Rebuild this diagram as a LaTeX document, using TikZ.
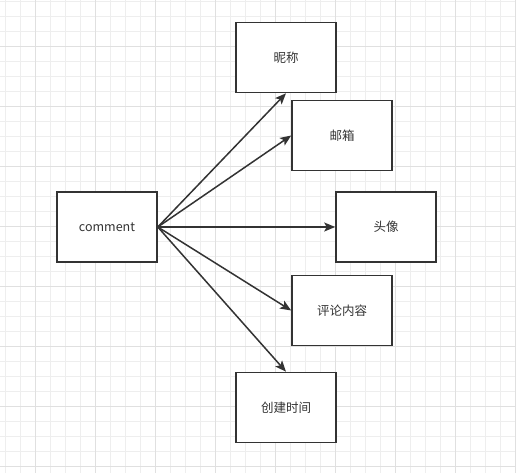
\documentclass[tikz,border=0pt]{standalone}
\usepackage{fontspec}
\setmainfont{Noto Sans CJK SC}
\usetikzlibrary{arrows.meta}
\definecolor{ink}{HTML}{333333}
\definecolor{gridminor}{HTML}{EEEEEE}
\definecolor{gridmajor}{HTML}{E0E0E0}
\tikzset{
  entity/.style={draw=ink, line width=1.6pt, fill=white, minimum width=100pt, minimum height=70pt, inner sep=0pt, font=\fontsize{12.5}{14}\selectfont, text=ink},
  link/.style={draw=ink, line width=1.5pt, -{Stealth[length=11pt,width=9pt,inset=2.5pt]}}
}
\begin{document}
\begin{tikzpicture}[x=1pt,y=-1pt]
\useasboundingbox (0,0) rectangle (516,473);
\fill[white] (0,0) rectangle (516,473);
\foreach \gx in {5,20,...,515} {\draw[gridminor, line width=0.8pt] (\gx,0) -- (\gx,473);}
\foreach \gy in {1,16,...,472} {\draw[gridminor, line width=0.8pt] (0,\gy) -- (516,\gy);}
\foreach \gx in {35,95,...,515} {\draw[gridmajor, line width=0.8pt] (\gx,0) -- (\gx,473);}
\foreach \gy in {46,106,...,472} {\draw[gridmajor, line width=0.8pt] (0,\gy) -- (516,\gy);}
\node[entity] (comment) at (107,227) {comment};
\node[entity] (nick) at (286,57.5) {昵称};
\node[entity] (mail) at (342,135.5) {邮箱};
\node[entity] (avatar) at (386,227) {头像};
\node[entity] (content) at (342,310.5) {评论内容};
\node[entity] (time) at (286,407.5) {创建时间};
\draw[link] (comment.east) -- (nick.south);
\draw[link] (comment.east) -- (mail.west);
\draw[link] (comment.east) -- (avatar.west);
\draw[link] (comment.east) -- (content.west);
\draw[link] (comment.east) -- (time.north);
\end{tikzpicture}
\end{document}
